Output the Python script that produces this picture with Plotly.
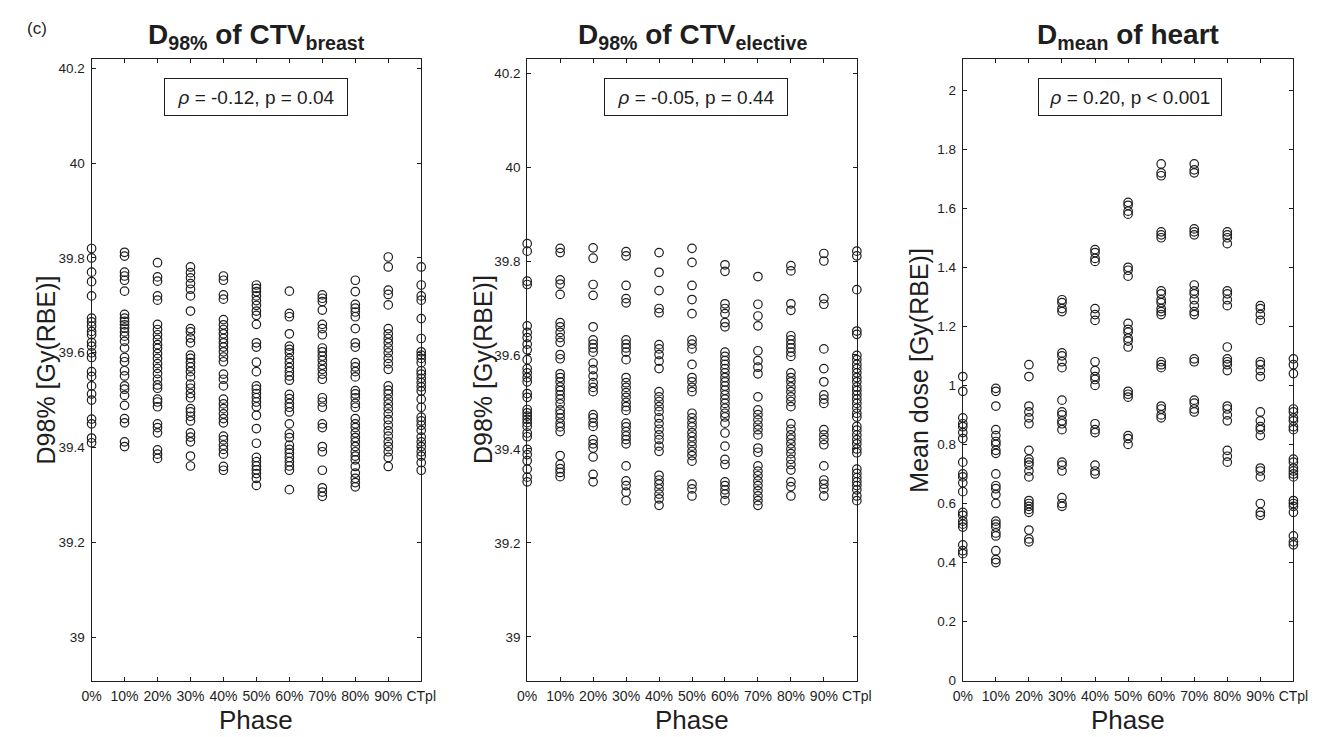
import plotly.graph_objects as go

# ---------------- data ----------------
phases = ["0%", "10%", "20%", "30%", "40%", "50%", "60%", "70%", "80%", "90%", "CTpl"]

ctv_breast_d98 = [
    [39.82, 39.80, 39.77, 39.75, 39.72, 39.673, 39.665, 39.656, 39.645, 39.638, 39.622, 39.614, 39.60, 39.59,
     39.56, 39.55, 39.53, 39.513, 39.50, 39.46, 39.45, 39.42, 39.41],
    [39.812, 39.804, 39.770, 39.762, 39.753, 39.730, 39.681, 39.673, 39.666, 39.659, 39.652, 39.644, 39.635,
     39.624, 39.610, 39.590, 39.581, 39.562, 39.551, 39.530, 39.523, 39.510, 39.489, 39.461, 39.452, 39.412, 39.402],
    [39.79, 39.76, 39.751, 39.72, 39.711, 39.66, 39.649, 39.638, 39.628, 39.617, 39.609, 39.598, 39.588, 39.577,
     39.567, 39.556, 39.544, 39.532, 39.525, 39.502, 39.496, 39.486, 39.45, 39.442, 39.431, 39.395, 39.386, 39.377],
    [39.781, 39.769, 39.758, 39.746, 39.734, 39.72, 39.688, 39.651, 39.644, 39.631, 39.621, 39.595, 39.588, 39.579,
     39.57, 39.56, 39.549, 39.534, 39.525, 39.514, 39.505, 39.482, 39.475, 39.466, 39.456, 39.431, 39.422, 39.412,
     39.382, 39.361],
    [39.762, 39.753, 39.722, 39.713, 39.67, 39.659, 39.649, 39.64, 39.63, 39.621, 39.612, 39.602, 39.591, 39.581,
     39.555, 39.544, 39.53, 39.502, 39.492, 39.482, 39.471, 39.461, 39.452, 39.424, 39.416, 39.405, 39.396, 39.386,
     39.36, 39.352],
    [39.743, 39.736, 39.729, 39.72, 39.71, 39.70, 39.688, 39.679, 39.66, 39.621, 39.612, 39.58, 39.56, 39.53,
     39.523, 39.514, 39.505, 39.496, 39.486, 39.468, 39.44, 39.409, 39.379, 39.37, 39.361, 39.353, 39.345, 39.335,
     39.32],
    [39.73, 39.683, 39.676, 39.64, 39.614, 39.607, 39.60, 39.588, 39.579, 39.569, 39.56, 39.551, 39.542, 39.512,
     39.503, 39.493, 39.485, 39.475, 39.45, 39.429, 39.421, 39.405, 39.396, 39.388, 39.379, 39.37, 39.361, 39.352,
     39.311],
    [39.722, 39.715, 39.708, 39.69, 39.66, 39.651, 39.638, 39.61, 39.602, 39.593, 39.584, 39.574, 39.565, 39.555,
     39.544, 39.505, 39.496, 39.485, 39.45, 39.442, 39.402, 39.391, 39.352, 39.315, 39.306, 39.297],
    [39.753, 39.729, 39.702, 39.694, 39.686, 39.676, 39.651, 39.621, 39.612, 39.579, 39.57, 39.56, 39.549, 39.52,
     39.513, 39.505, 39.493, 39.485, 39.461, 39.45, 39.442, 39.431, 39.421, 39.412, 39.402, 39.391, 39.382, 39.374,
     39.36, 39.346, 39.335, 39.326, 39.317],
    [39.802, 39.781, 39.732, 39.723, 39.701, 39.651, 39.64, 39.63, 39.621, 39.61, 39.60, 39.588, 39.577, 39.565,
     39.53, 39.521, 39.513, 39.502, 39.492, 39.482, 39.471, 39.459, 39.447, 39.435, 39.424, 39.412, 39.402, 39.391,
     39.379, 39.36],
    [39.781, 39.743, 39.72, 39.711, 39.672, 39.63, 39.602, 39.595, 39.588, 39.579, 39.562, 39.555, 39.546, 39.537,
     39.528, 39.519, 39.502, 39.485, 39.464, 39.456, 39.447, 39.436, 39.422, 39.412, 39.402, 39.391, 39.382, 39.368,
     39.352],
]

ctv_elective_d98 = [
    [39.837, 39.821, 39.757, 39.75, 39.662, 39.648, 39.637, 39.623, 39.611, 39.59, 39.571, 39.562, 39.552, 39.543,
     39.518, 39.51, 39.484, 39.477, 39.47, 39.463, 39.456, 39.448, 39.434, 39.426, 39.399, 39.388, 39.375, 39.357,
     39.34, 39.33],
    [39.827, 39.818, 39.76, 39.751, 39.729, 39.669, 39.66, 39.648, 39.637, 39.627, 39.601, 39.592, 39.56, 39.552,
     39.543, 39.532, 39.524, 39.515, 39.506, 39.496, 39.483, 39.475, 39.466, 39.455, 39.447, 39.437, 39.386, 39.367,
     39.358, 39.35, 39.341],
    [39.828, 39.806, 39.75, 39.727, 39.66, 39.632, 39.623, 39.615, 39.606, 39.583, 39.569, 39.555, 39.541, 39.531,
     39.522, 39.473, 39.466, 39.456, 39.448, 39.42, 39.411, 39.402, 39.383, 39.346, 39.33],
    [39.82, 39.811, 39.748, 39.72, 39.711, 39.632, 39.623, 39.615, 39.606, 39.59, 39.552, 39.541, 39.531, 39.52,
     39.51, 39.499, 39.49, 39.482, 39.455, 39.447, 39.437, 39.428, 39.42, 39.411, 39.364, 39.332, 39.322, 39.308,
     39.29],
    [39.818, 39.776, 39.737, 39.699, 39.69, 39.622, 39.613, 39.601, 39.587, 39.571, 39.522, 39.511, 39.501, 39.49,
     39.48, 39.466, 39.454, 39.442, 39.43, 39.42, 39.406, 39.395, 39.344, 39.334, 39.325, 39.315, 39.304, 39.294,
     39.28],
    [39.827, 39.797, 39.748, 39.718, 39.688, 39.632, 39.623, 39.613, 39.58, 39.552, 39.543, 39.531, 39.522, 39.476,
     39.466, 39.456, 39.447, 39.435, 39.426, 39.416, 39.406, 39.395, 39.386, 39.374, 39.325, 39.315, 39.30],
    [39.792, 39.778, 39.709, 39.699, 39.688, 39.669, 39.66, 39.606, 39.597, 39.588, 39.58, 39.571, 39.562, 39.552,
     39.543, 39.534, 39.525, 39.515, 39.506, 39.497, 39.487, 39.476, 39.468, 39.455, 39.434, 39.406, 39.378, 39.367,
     39.33, 39.322, 39.313, 39.304, 39.29],
    [39.767, 39.708, 39.683, 39.662, 39.609, 39.588, 39.574, 39.56, 39.511, 39.483, 39.473, 39.462, 39.451, 39.441,
     39.43, 39.402, 39.393, 39.364, 39.353, 39.343, 39.332, 39.322, 39.311, 39.30, 39.29, 39.28],
    [39.79, 39.779, 39.709, 39.695, 39.641, 39.632, 39.623, 39.615, 39.606, 39.597, 39.562, 39.552, 39.543, 39.532,
     39.522, 39.511, 39.501, 39.49, 39.454, 39.442, 39.43, 39.421, 39.411, 39.40, 39.39, 39.378, 39.367, 39.355,
     39.33, 39.32, 39.30],
    [39.816, 39.80, 39.72, 39.708, 39.613, 39.571, 39.543, 39.515, 39.506, 39.497, 39.441, 39.43, 39.42, 39.409,
     39.364, 39.334, 39.325, 39.315, 39.30],
    [39.821, 39.811, 39.739, 39.651, 39.644, 39.599, 39.59, 39.58, 39.571, 39.562, 39.552, 39.543, 39.532, 39.524,
     39.515, 39.506, 39.497, 39.487, 39.476, 39.468, 39.448, 39.44, 39.43, 39.42, 39.411, 39.40, 39.392, 39.357,
     39.348, 39.339, 39.33, 39.322, 39.313, 39.30, 39.29],
]

heart_dmean = [
    [1.03, 0.98, 0.89, 0.87, 0.86, 0.84, 0.82, 0.74, 0.70, 0.69, 0.67, 0.64, 0.57, 0.56, 0.54, 0.53, 0.52, 0.46,
     0.44, 0.43],
    [0.99, 0.98, 0.93, 0.85, 0.83, 0.81, 0.80, 0.78, 0.77, 0.70, 0.66, 0.65, 0.63, 0.60, 0.54, 0.53, 0.52, 0.50,
     0.49, 0.44, 0.41, 0.40],
    [1.07, 1.03, 0.93, 0.91, 0.89, 0.87, 0.78, 0.75, 0.74, 0.73, 0.71, 0.69, 0.61, 0.60, 0.59, 0.58, 0.57, 0.51,
     0.48, 0.47],
    [1.29, 1.28, 1.26, 1.25, 1.11, 1.10, 1.08, 1.06, 0.95, 0.91, 0.90, 0.88, 0.87, 0.85, 0.74, 0.73, 0.71, 0.62,
     0.60, 0.59],
    [1.46, 1.45, 1.43, 1.42, 1.26, 1.24, 1.22, 1.08, 1.05, 1.03, 1.02, 1.00, 0.87, 0.85, 0.84, 0.73, 0.71, 0.70],
    [1.62, 1.61, 1.59, 1.58, 1.40, 1.39, 1.37, 1.21, 1.19, 1.18, 1.16, 1.15, 1.13, 0.98, 0.97, 0.96, 0.83, 0.82,
     0.80],
    [1.75, 1.72, 1.71, 1.52, 1.51, 1.50, 1.32, 1.31, 1.29, 1.28, 1.26, 1.25, 1.24, 1.08, 1.07, 1.06, 0.93, 0.92,
     0.90, 0.89],
    [1.75, 1.73, 1.72, 1.53, 1.52, 1.51, 1.34, 1.32, 1.31, 1.29, 1.27, 1.25, 1.24, 1.09, 1.08, 0.95, 0.94, 0.92,
     0.91],
    [1.52, 1.51, 1.50, 1.48, 1.32, 1.31, 1.29, 1.27, 1.13, 1.09, 1.08, 1.07, 1.05, 0.93, 0.92, 0.90, 0.88, 0.78,
     0.76, 0.74],
    [1.27, 1.26, 1.24, 1.22, 1.08, 1.07, 1.05, 1.03, 0.91, 0.88, 0.86, 0.85, 0.83, 0.72, 0.71, 0.69, 0.60, 0.57,
     0.56],
    [1.09, 1.07, 1.04, 0.92, 0.91, 0.89, 0.88, 0.86, 0.85, 0.75, 0.74, 0.72, 0.71, 0.70, 0.69, 0.61, 0.60, 0.59,
     0.57, 0.49, 0.47, 0.46],
]

panel_titles = ["<b>D<sub>98%</sub> of CTV<sub>breast</sub></b>",
                "<b>D<sub>98%</sub> of CTV<sub>elective</sub></b>",
                "<b>D<sub>mean</sub> of heart</b>"]
stat_texts = ["<i>ρ</i> = -0.12, p = 0.04",
              "<i>ρ</i> = -0.05, p = 0.44",
              "<i>ρ</i> = 0.20, p < 0.001"]
y_titles = ["D98% [Gy(RBE)]", "D98% [Gy(RBE)]", "Mean dose [Gy(RBE)]"]
x_title = "Phase"
panel_label = "(c)"

# ---------------- layout geometry (page pixels) ----------------
W, H = 1322, 737
FONT = "Arial, Liberation Sans, Helvetica, sans-serif"
INK = "#1e1e1e"

x_px = [(75, 411), (519, 855), (963, 1300)]
y_top, y_bot = 52, 680
y_ranges = [[38.908, 40.219], [38.907, 40.229], [0, 2.104]]
y_ticks = [[39, 39.2, 39.4, 39.6, 39.8, 40, 40.2],
           [39, 39.2, 39.4, 39.6, 39.8, 40, 40.2],
           [0, 0.2, 0.4, 0.6, 0.8, 1, 1.2, 1.4, 1.6, 1.8, 2]]
ytitle_x = [29, 474, 918]
stat_x = [243, 691, 1133]


def fx(px):
    return px / W


def fy(py):
    return 1 - py / H


fig = go.Figure()
datasets = [ctv_breast_d98, ctv_elective_d98, heart_dmean]

for i, data in enumerate(datasets):
    xs, ys = [], []
    for ph, vals in zip(phases, data):
        xs += [ph] * len(vals)
        ys += vals
    sfx = "" if i == 0 else str(i + 1)
    fig.add_trace(go.Scatter(
        x=xs, y=ys, mode="markers", xaxis="x" + sfx, yaxis="y" + sfx,
        marker=dict(symbol="circle-open", size=8.5, color=INK, line=dict(width=1.2, color=INK)),
        showlegend=False, cliponaxis=False,
    ))

    ax = dict(
        domain=[fx(x_px[i][0]), fx(x_px[i][1])],
        type="category", categoryorder="array", categoryarray=phases,
        range=[0, 10], showline=True, linecolor=INK, linewidth=1, mirror="ticks",
        ticks="inside", ticklen=4, tickwidth=1, tickcolor=INK,
        showgrid=False, zeroline=False, ticklabelstandoff=3,
        tickfont=dict(family=FONT, size=14, color=INK),
        anchor="y" + sfx,
    )
    ay = dict(
        domain=[fy(y_bot), fy(y_top)],
        range=y_ranges[i], tickvals=y_ticks[i],
        showline=True, linecolor=INK, linewidth=1, mirror="ticks",
        ticks="inside", ticklen=4, tickwidth=1, tickcolor=INK,
        showgrid=False, zeroline=False, ticklabelstandoff=3,
        tickfont=dict(family=FONT, size=13.5, color=INK),
        anchor="x" + sfx,
    )
    fig.layout["xaxis" + sfx] = ax
    fig.layout["yaxis" + sfx] = ay

    cx = (x_px[i][0] + x_px[i][1]) / 2
    # panel title
    fig.add_annotation(x=fx(cx), y=fy(29), xref="paper", yref="paper",
                       text=panel_titles[i], showarrow=False, xanchor="center", yanchor="middle",
                       font=dict(family=FONT, size=28, color=INK))
    # statistics box
    fig.add_annotation(x=fx(stat_x[i]), y=fy(90), xref="paper", yref="paper",
                       text=stat_texts[i], showarrow=False, xanchor="center", yanchor="middle",
                       width=170, height=24, align="center", valign="middle",
                       font=dict(family=FONT, size=19, color=INK),
                       bordercolor=INK, borderwidth=1, borderpad=6, bgcolor="white")
    # y title
    fig.add_annotation(x=fx(ytitle_x[i]), y=fy((y_top + y_bot) / 2), xref="paper", yref="paper",
                       text=y_titles[i], showarrow=False, textangle=-90,
                       xanchor="center", yanchor="middle",
                       font=dict(family=FONT, size=25, color=INK))
    # x title
    fig.add_annotation(x=fx(cx), y=fy(720), xref="paper", yref="paper",
                       text=x_title, showarrow=False, xanchor="center", yanchor="middle",
                       height=26, borderpad=0,
                       font=dict(family=FONT, size=26, color=INK))

fig.add_annotation(x=fx(19), y=fy(21), xref="paper", yref="paper", text=panel_label,
                   showarrow=False, xanchor="center", yanchor="middle",
                   font=dict(family=FONT, size=17, color=INK))

fig.update_layout(
    width=W, height=H, margin=dict(l=0, r=0, t=0, b=0),
    paper_bgcolor="white", plot_bgcolor="white",
    font=dict(family=FONT, color=INK),
)

fig.write_html("out.html")
